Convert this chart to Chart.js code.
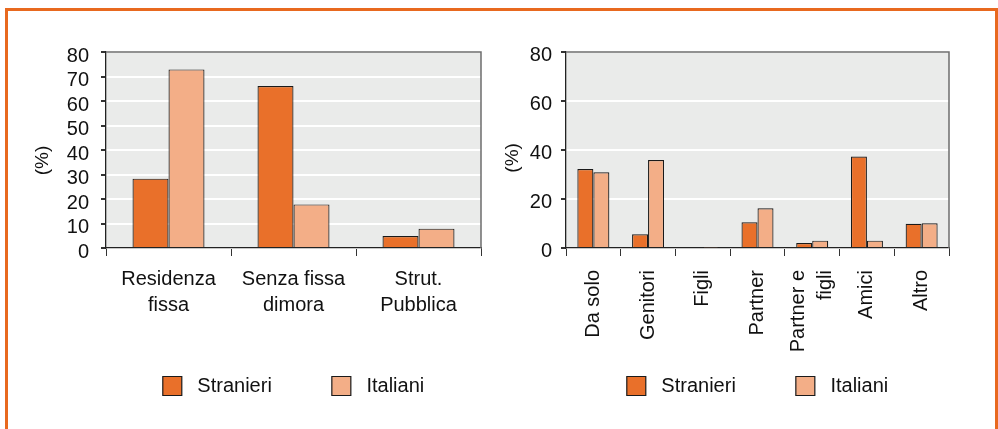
<!DOCTYPE html>
<html>
<head>
<meta charset="utf-8">
<script src="https://cdn.jsdelivr.net/npm/chart.js@4.4.1/dist/chart.umd.min.js"></script>
<style>
    html, body { margin: 0; padding: 0; background: #fff; width: 998px; height: 429px; overflow: hidden; position: relative; }
    .frame { position: absolute; left: 5px; top: 8px; width: 993px; height: 440px; border: 3px solid #e8691f; box-sizing: border-box; }
    canvas { position: absolute; top: 12px; }
    #leftChart { left: 8px; }
    #rightChart { left: 503px; }
</style>
</head>
<body>
<div class="frame"></div>
<canvas id="leftChart" width="571" height="394"></canvas>
<canvas id="rightChart" width="509" height="394"></canvas>
<script>
// left chart: where they live
const leftCategories = [['Residenza', 'fissa'], ['Senza fissa', 'dimora'], ['Strut.', 'Pubblica']];
const leftStranieri = [28.3, 66.1, 4.9];
const leftItaliani = [72.9, 17.8, 7.9];
const leftTicks = [0, 10, 20, 30, 40, 50, 60, 70, 80];

// right chart: who they live with
const rightCategories = ['Da solo', 'Genitori', 'Figli', 'Partner', ['Partner e', 'figli'], 'Amici', 'Altro'];
const rightStranieri = [32.2, 5.6, 0, 10.5, 2.0, 37.3, 9.9];
const rightItaliani = [30.9, 35.9, 0.2, 16.2, 3.0, 3.0, 10.1];
const rightTicks = [0, 20, 40, 60, 80];

const seriesNames = ['Stranieri', 'Italiani'];
const FONT = "'Liberation Sans', Arial, sans-serif";

// grey plot background + top/right edge
const plotFrame = {
    id: 'plotFrame',
    beforeDraw(chart) {
        const { ctx, chartArea: a } = chart;
        ctx.save();
        ctx.fillStyle = '#eaebea';
        ctx.fillRect(a.left, a.top, a.right - a.left, a.bottom - a.top);
        ctx.restore();

        // rotated multi-line labels start at the tick, centre them instead
        const x = chart.scales.x;
        if (x.options.ticks.minRotation) {
            x.getLabelItems(a).forEach(item => {
                if (Array.isArray(item.label)) {
                    item.options.translation[0] -= (item.label.length - 1) * item.font.lineHeight / 2;
                }
            });
        }
    },
    afterDraw(chart) {
        const { ctx, chartArea: a } = chart;
        ctx.save();
        ctx.strokeStyle = '#6e6e6e';
        ctx.lineWidth = 1.5;
        ctx.beginPath();
        ctx.moveTo(a.left, a.top);
        ctx.lineTo(a.right, a.top);
        ctx.lineTo(a.right, a.bottom);
        ctx.stroke();
        ctx.restore();
    }
};

const makeChart = (id, cfg) => {
    const ctx = document.getElementById(id).getContext('2d');
    return new Chart(ctx, {
        type: 'bar',
        data: {
            labels: cfg.labels,
            datasets: [
                { label: seriesNames[0], data: cfg.stranieri, backgroundColor: '#e9702a' },
                { label: seriesNames[1], data: cfg.italiani, backgroundColor: '#f3ae87' },
            ].map(d => ({
                ...d,
                borderColor: '#1a1a1a',
                borderWidth: 1.2,
                categoryPercentage: cfg.groupWidth,
                barPercentage: 1,
            })),
        },
        options: {
            responsive: false,
            animation: false,
            events: [],
            layout: { padding: { left: 0, right: 0, top: 40, bottom: 0 } },
            plugins: {
                tooltip: { enabled: false },
                legend: {
                    position: 'bottom',
                    labels: {
                        font: { family: FONT, size: 20 },
                        color: '#111',
                        boxWidth: 19,
                        boxHeight: 19,
                        padding: 10,
                        // wider gaps than chart.js gives: box -> text and between items
                        generateLabels: chart => Chart.defaults.plugins.legend.labels.generateLabels(chart)
                            .map((l, i) => ({ ...l, text: ' ' + l.text + (i === 0 ? '         ' : '') })),
                    },
                },
            },
            scales: {
                x: {
                    afterFit: s => { s.height = 118; },
                    grid: { offset: true, drawOnChartArea: false, tickLength: 8, tickColor: '#333' },
                    border: { color: '#222', width: 1.3 },
                    ticks: {
                        font: { family: FONT, size: 20, lineHeight: cfg.xLineHeight },
                        color: '#111',
                        padding: cfg.xPad,
                        minRotation: cfg.rotation,
                        maxRotation: cfg.rotation,
                        autoSkip: false,
                    },
                },
                y: {
                    min: cfg.ticks[0],
                    max: cfg.ticks[cfg.ticks.length - 1],
                    afterFit: s => { s.width = cfg.yWidth; },
                    grid: { color: '#ffffff', lineWidth: 2, tickLength: 5, tickColor: '#333' },
                    border: { color: '#222', width: 1.3 },
                    ticks: {
                        stepSize: cfg.ticks[1] - cfg.ticks[0],
                        autoSkip: false,
                        font: { family: FONT, size: 20 },
                        color: '#111',
                        padding: cfg.yPad,
                        labelOffset: cfg.yLabelOffset,
                    },
                    title: {
                        display: true,
                        text: cfg.yTitle,
                        font: { family: FONT, size: 19, lineHeight: 1 },
                        color: '#111',
                        padding: { top: cfg.titlePad, bottom: 0 },
                    },
                },
                // empty axis on the right, same width as the left one,
                // so the legend ends up centred under the plot
                ySpacer: {
                    type: 'linear',
                    position: 'right',
                    afterFit: s => { s.width = cfg.yWidth; },
                    grid: { display: false },
                    border: { display: false },
                    ticks: { display: false },
                },
            },
        },
        plugins: [plotFrame],
    });
};

makeChart('leftChart', {
    labels: leftCategories, stranieri: leftStranieri, italiani: leftItaliani, ticks: leftTicks,
    groupWidth: 0.576, yWidth: 98, yPad: 12, yLabelOffset: 4, titlePad: 25.5,
    yTitle: '(%)    ', xPad: 10, xLineHeight: 1.3, rotation: 0,
});

makeChart('rightChart', {
    labels: rightCategories, stranieri: rightStranieri, italiani: rightItaliani, ticks: rightTicks,
    groupWidth: 0.585, yWidth: 63, yPad: 9, yLabelOffset: 3, titlePad: 0,
    yTitle: '(%)   ', xPad: 14, xLineHeight: 1.35, rotation: 90,
});
</script>
</body>
</html>
